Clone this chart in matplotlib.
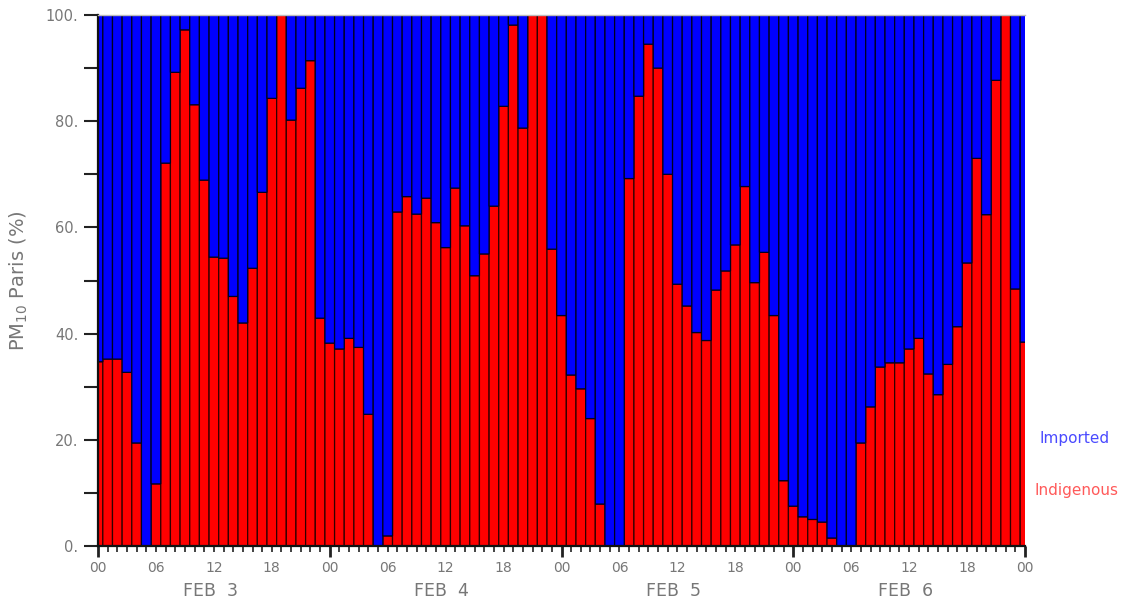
import matplotlib
matplotlib.use("Agg")
import matplotlib.pyplot as plt
import numpy as np

# Hourly data, 00 Feb 3 -> 00 Feb 7
hours = list(range(97))
indigenous = [
    34.7, 35.2, 35.2, 32.7, 19.4, 0.0, 11.7, 72.1, 89.2, 97.2, 83.1, 68.9,
    54.4, 54.2, 47.0, 42.0, 52.3, 66.6, 84.3, 100.0, 80.2, 86.2, 91.4, 42.9,
    38.2, 37.1, 39.1, 37.4, 24.8, 0.0, 1.9, 62.9, 65.8, 62.5, 65.5, 60.9,
    56.2, 67.4, 60.3, 50.9, 55.0, 64.0, 82.8, 98.1, 78.7, 100.0, 100.0, 55.9,
    43.4, 32.2, 29.6, 24.0, 7.9, 0.0, 0.0, 69.2, 84.7, 94.5, 90.0, 70.0,
    49.3, 45.2, 40.2, 38.7, 48.2, 51.8, 56.7, 67.7, 49.6, 55.3, 43.4, 12.3,
    7.5, 5.5, 5.0, 4.5, 1.5, 0.0, 0.0, 19.4, 26.2, 33.7, 34.5, 34.5,
    37.1, 39.1, 32.4, 28.5, 34.2, 41.3, 53.3, 73.0, 62.4, 87.7, 100.0, 48.4,
    38.4,
]
imported = [100.0 - v for v in indigenous]

x_tick_pos = list(range(0, 97, 6))
x_tick_labels = ["00", "06", "12", "18"] * 4 + ["00"]
day_labels = ["FEB  3", "FEB  4", "FEB  5", "FEB  6"]
y_ticks = [0, 20, 40, 60, 80, 100]
y_tick_labels = ["0.", "20.", "40.", "60.", "80.", "100."]

fig = plt.figure(figsize=(11.23, 6.04), dpi=100)
ax = fig.add_axes([98 / 1123, 1 - 546 / 604, (1025 - 98) / 1123, (546 - 15) / 604])

ax.bar(hours, indigenous, width=1.0, color="#ff0000", edgecolor="#300000",
       linewidth=0.9, snap=False)
ax.bar(hours, imported, bottom=indigenous, width=1.0, color="#0000ff",
       edgecolor="#000020", linewidth=0.9, snap=False)

ax.set_xlim(0, 96)
ax.set_ylim(0, 100)

gray = "#777777"
ax.set_yticks(y_ticks)
ax.set_yticklabels(y_tick_labels, color=gray, fontsize=10.5)
ax.set_yticks(np.arange(10, 100, 20), minor=True)
ax.tick_params(axis="y", which="both", direction="out", length=10, width=1.5, color="#222222", pad=4)

ax.set_xticks(x_tick_pos)
ax.set_xticklabels(x_tick_labels, color=gray, fontsize=10)
ax.set_xticks(hours, minor=True)
ax.tick_params(axis="x", which="major", direction="out", length=4, width=1.2, color="#222222", pad=7)
ax.tick_params(axis="x", which="minor", direction="out", length=4, width=1.2, color="#222222")
for t, pos in zip(ax.xaxis.get_major_ticks(), x_tick_pos):
    if pos % 24 == 0:
        t.tick1line.set_markersize(8)
        t.tick1line.set_markeredgewidth(2.0)

for i, lab in enumerate(day_labels):
    ax.text(24 * i + 11.6, -0.085, lab, transform=ax.get_xaxis_transform(),
            ha="center", va="center", fontsize=12.5, color=gray)

ax.set_ylabel("PM$_{10}$ Paris (%)", color=gray, fontsize=14)
ax.yaxis.set_label_coords(-0.073, 0.5)

for s in ["left", "bottom"]:
    ax.spines[s].set_color("#111111")
    ax.spines[s].set_linewidth(1.6)
ax.spines["top"].set_color("#bbbbbb")
ax.spines["top"].set_linewidth(1.0)
ax.spines["right"].set_visible(False)

fig.text(1075 / 1123, 1 - 438 / 604, "Imported", color="#4a4aff", fontsize=11, ha="center", va="center")
fig.text(1077 / 1123, 1 - 490 / 604, "Indigenous", color="#ff5a5a", fontsize=11, ha="center", va="center")

fig.savefig("out.png", dpi=100)
